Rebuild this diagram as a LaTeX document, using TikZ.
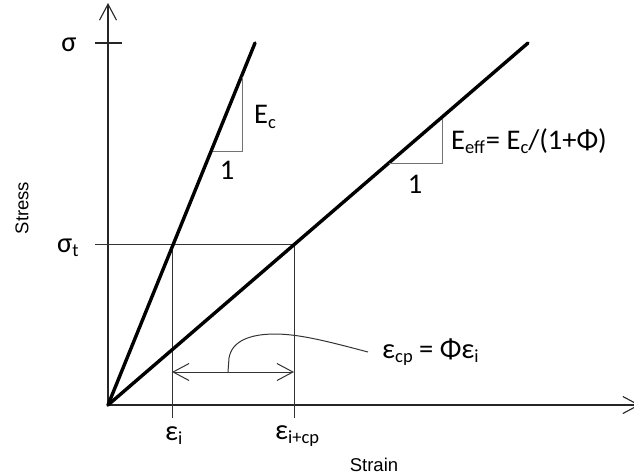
\documentclass[tikz,border=0pt]{standalone}
\usepackage{fontspec}
\setmainfont{Carlito}
\newfontfamily\arialf{Liberation Sans}
\usetikzlibrary{arrows.meta}
\newcommand\lsub[1]{\raisebox{-4.5pt}{\fontsize{18.5}{18.5}\selectfont #1}}
\tikzset{
  axisline/.style={line width=1.1pt, draw=black!85},
  curveline/.style={line width=3.4pt, line cap=round},
  thinline/.style={line width=1pt, draw=black!80},
  slopetri/.style={line width=1pt, draw=black!55},
  barb/.style={-{Straight Barb[length=16pt,width=17pt,line width=1.1pt]}},
  lbl/.style={inner sep=0pt, font=\fontsize{28.5}{30}\selectfont},
  axlbl/.style={inner sep=0pt, font=\arialf\fontsize{18.5}{20}\selectfont}
}
\begin{document}
\begin{tikzpicture}[x=1pt,y=-1pt]
\useasboundingbox (0,0) rectangle (634,475);
% key points
\coordinate (O) at (108,405);
\coordinate (Ytop) at (108,3);
\coordinate (Xend) at (640,405);
\coordinate (A) at (255,43);
\coordinate (B) at (528,43);
\coordinate (P) at (172,244);
\coordinate (Q) at (294,244);
\coordinate (Pd) at (172,418);
\coordinate (Qd) at (294,418);
\coordinate (Pa) at (172,372);
\coordinate (Qa) at (294,372);
\coordinate (S1) at (95,43);
\coordinate (S2) at (122,43);
\coordinate (T1) at (95,244);
\coordinate (L0) at (228,372);
\coordinate (L1) at (368,352);
% axes
\draw[axisline, barb] (O) -- (Ytop);
\draw[axisline, barb] (O) -- (Xend);
\draw[axisline] (S1) -- (S2);
\draw[thinline] (T1) -- (Q);
\draw[thinline] (P) -- (Pd);
\draw[thinline] (Q) -- (Qd);
% curves
\draw[curveline] (O) -- (A);
\draw[curveline] (O) -- (B);
% slope triangles
\draw[slopetri] (213,151) -- (242,151) -- (242,77);
\draw[slopetri] (389,163) -- (442,163) -- (442,119);
% dimension arrow
\draw[thinline, {Straight Barb[length=16pt,width=17pt,line width=1pt]}-{Straight Barb[length=16pt,width=17pt,line width=1pt]}] (Pa) -- (Qa);
% leader
\draw[thinline] (L0) -- (229,358) .. controls (232,340) and (252,334) .. (275,334) .. controls (300,334) and (330,342) .. (L1);
% labels
\node[lbl] (sig) at (69,45) {σ};
\node[lbl, anchor=base west] (sigt) at (57,252) {σ\lsub{t}};
\node[lbl] (Ec) at (265,117) {E\lsub{c}};
\node[lbl] (one1) at (227,170) {1};
\node[lbl] (one2) at (415,184) {1};
\node[lbl, anchor=base west] (Eeff) at (451,149) {E\lsub{eff}\kern1pt= E\lsub{c}/(1+Φ)};
\node[lbl, anchor=base west] (epsi) at (165,440) {ε\lsub{i}};
\node[lbl, anchor=base west] (epsicp) at (275,439) {ε\lsub{i+cp}};
\node[lbl, anchor=base west] (epscp) at (382,358) {ε\lsub{cp} = Φε\lsub{i}};
\node[axlbl] (strain) at (374,465) {Strain};
\node[axlbl, rotate=90] (stress) at (22,208) {Stress};
\end{tikzpicture}
\end{document}
